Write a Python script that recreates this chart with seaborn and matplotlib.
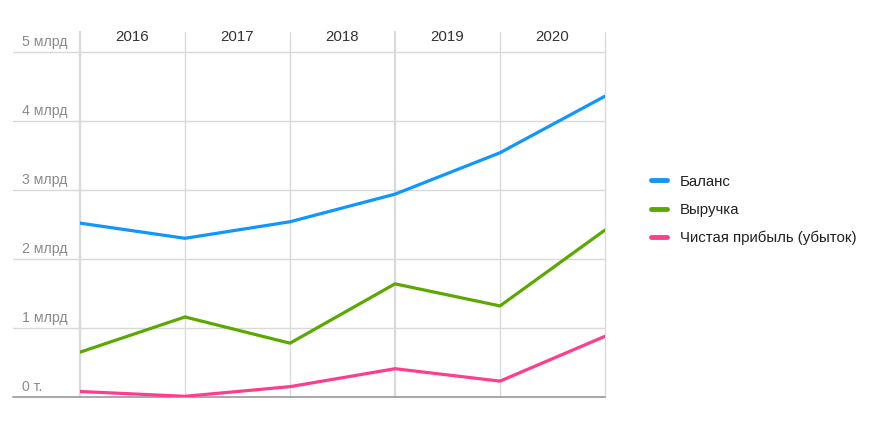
import pandas as pd
import seaborn as sns
import matplotlib.pyplot as plt
from matplotlib import transforms

# values in billions, read at the vertical grid lines
points = [0, 1, 2, 3, 4, 5]
years = ["2016", "2017", "2018", "2019", "2020"]
balance = [2.52, 2.30, 2.54, 2.94, 3.54, 4.36]
revenue = [0.65, 1.16, 0.78, 1.64, 1.32, 2.42]
profit = [0.08, 0.01, 0.15, 0.41, 0.23, 0.88]
series_names = ["Баланс", "Выручка", "Чистая прибыль (убыток)"]
y_ticks = [0, 1, 2, 3, 4, 5]
y_labels = ["0 т.", "1 млрд", "2 млрд", "3 млрд", "4 млрд", "5 млрд"]
colors = ["#0f96ff", "#5ba800", "#ff3d8c"]

df = pd.concat([
    pd.DataFrame({"x": points, "value": vals, "series": name})
    for name, vals in zip(series_names, [balance, revenue, profit])
])

sns.set_style("white")
plt.rcParams["font.family"] = ["Liberation Sans", "DejaVu Sans"]

fig = plt.figure(figsize=(8.75, 4.38), dpi=100)
ax = fig.add_axes([80 / 875, 1 - 397 / 438, 525 / 875, 365 / 438])

sns.lineplot(data=df, x="x", y="value", hue="series", palette=colors,
             linewidth=2.3, ax=ax, zorder=5)

ax.set_xlim(0, 5)
ax.set_ylim(0, 365 / 69)
for s in ax.spines.values():
    s.set_visible(False)
ax.set_xticks([])
ax.set_yticks([])
ax.set_xlabel("")
ax.set_ylabel("")

# vertical grid
for i in points:
    lw = 1.7 if i in (0, 3) else 1.0
    ax.axvline(i, color="#dadada", lw=lw, zorder=1, clip_on=False)

# horizontal grid, reaching left under the labels
left = (13 - 80) / 525
for t in y_ticks:
    col = "#a0a0a0" if t == 0 else "#d9d9d9"
    ax.axhline(t, xmin=left, xmax=1, color=col, lw=1.0 if t else 1.3,
               zorder=2, clip_on=False)

trans = transforms.blended_transform_factory(ax.transAxes, ax.transData)
for t, lab in zip(y_ticks, y_labels):
    ax.text((22 - 80) / 525, t + 0.04, lab, transform=trans, ha="left",
            va="bottom", fontsize=10.2, color="#8a8a8a")

trans2 = transforms.blended_transform_factory(ax.transData, ax.transAxes)
for i, yr in enumerate(years):
    ax.text(i + 0.5, (397 - 37) / 365, yr, transform=trans2, ha="center",
            va="center", fontsize=10.8, color="#333333")

leg = ax.legend(loc="center left", bbox_to_anchor=(651 / 875, 1 - 210 / 438),
                bbox_transform=fig.transFigure, frameon=False, fontsize=10.8,
                handlelength=1.05, handletextpad=0.85, labelspacing=0.95,
                borderpad=0, borderaxespad=0)
for h in leg.get_lines():
    h.set_linewidth(3.5)
    h.set_solid_capstyle("round")
for txt in leg.get_texts():
    txt.set_color("#222222")

fig.savefig("out.png", dpi=100)
